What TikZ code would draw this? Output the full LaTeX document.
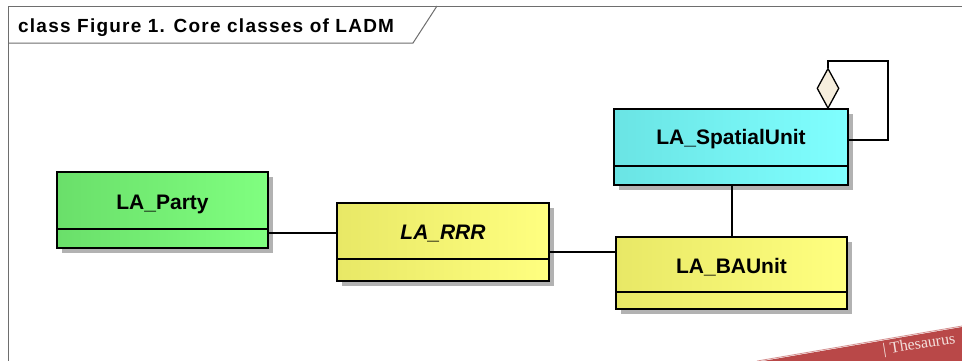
\documentclass[tikz,border=0pt]{standalone}
\usepackage{fontspec}
\setmainfont{Liberation Sans}
\newfontfamily\bookfont{Liberation Serif}
\usetikzlibrary{shapes.geometric}
\definecolor{grnL}{HTML}{6ADF6A}
\definecolor{grnR}{HTML}{80FF80}
\definecolor{yelL}{HTML}{E8E866}
\definecolor{yelR}{HTML}{FFFF80}
\definecolor{cyaL}{HTML}{6AE4E4}
\definecolor{cyaR}{HTML}{80FFFF}
\definecolor{diafill}{HTML}{F6EEDD}
\definecolor{framegray}{HTML}{6E6E6E}
\definecolor{bookred}{HTML}{B94848}
\definecolor{booktext}{HTML}{F3E0DC}
\tikzset{
  clsbox/.style={draw=black, line width=1.3pt, inner sep=0pt, rectangle},
  shadowbox/.style={fill=black!30, draw=none, inner sep=0pt, rectangle},
  clsname/.style={font=\fontsize{21}{25}\selectfont\bfseries, inner sep=0pt},
  conn/.style={draw=black, line width=1.2pt},
  divider/.style={draw=black, line width=1.3pt},
}
\begin{document}
\begin{tikzpicture}[x=1pt,y=-1pt]
\useasboundingbox (0,0) rectangle (962,360);
\fill[white] (0,0) rectangle (962,360);
% frame
\draw[framegray, line width=1pt] (8,400) -- (8,6) -- (1000,6);
\draw[framegray, line width=1pt] (8,43) -- (413,43) -- (437,6);
\node[anchor=base west, inner sep=0pt, font=\fontsize{19}{22}\selectfont\bfseries\addfontfeature{LetterSpace=6.5}] (title) at (18,32) {class Figure 1. Core classes of LADM};

% shadows
\node[shadowbox, minimum width=211pt, minimum height=76pt] (partysh) at (167.5,215) {};
\node[shadowbox, minimum width=212pt, minimum height=78pt] (rrrsh) at (448,247) {};
\node[shadowbox, minimum width=234pt, minimum height=76pt] (spatialsh) at (736,152) {};
\node[shadowbox, minimum width=231pt, minimum height=72pt] (baush) at (736.5,278) {};

% classes
\node[clsbox, left color=grnL, right color=grnR, minimum width=211pt, minimum height=76pt] (party) at (162.5,210) {};
\draw[divider] (party.west |- 0,229) -- (party.east |- 0,229);
\node[clsname] (partyname) at (162.5,204) {LA\_Party};

\node[clsbox, left color=yelL, right color=yelR, minimum width=212pt, minimum height=78pt] (rrr) at (443,242) {};
\draw[divider] (rrr.west |- 0,259) -- (rrr.east |- 0,259);
\node[clsname, font=\fontsize{21}{25}\selectfont\bfseries\itshape] (rrrname) at (443,234) {LA\_RRR};

\node[clsbox, left color=cyaL, right color=cyaR, minimum width=234pt, minimum height=76pt] (spatial) at (731,147) {};
\draw[divider] (spatial.west |- 0,166) -- (spatial.east |- 0,166);
\node[clsname] (spatialname) at (731,139) {LA\_SpatialUnit};

\node[clsbox, left color=yelL, right color=yelR, minimum width=231pt, minimum height=72pt] (baunit) at (731.5,273) {};
\draw[divider] (baunit.west |- 0,292) -- (baunit.east |- 0,292);
\node[clsname] (bauname) at (731.5,267) {LA\_BAUnit};

% connectors
\draw[conn] (party.east |- 0,233) -- (rrr.west |- 0,233);
\draw[conn] (rrr.east |- 0,252) -- (baunit.west |- 0,252);
\draw[conn] (spatial.south -| 732,0) -- (baunit.north -| 732,0);

% self aggregation
\node[diamond, draw=black, line width=1.3pt, fill=diafill, inner sep=0pt, minimum width=22pt, minimum height=40pt, anchor=south] (dia) at (828,109) {};
\coordinate (loopA) at (888,61);
\draw[conn] (spatial.east |- 0,140) -| (loopA) -| (dia.north);

% book corner
\fill[bookred] (757,362) -- (962,327) -- (975,370) -- cycle;
\draw[bookred!60!white, line width=0.8pt] (757,361) -- (962,326);
\node[rotate=9, anchor=base east, inner sep=0pt, text=booktext, font=\bookfont\fontsize{16}{18}\selectfont] (booktxt) at (956,343) {| Thesaurus};
\end{tikzpicture}
\end{document}
